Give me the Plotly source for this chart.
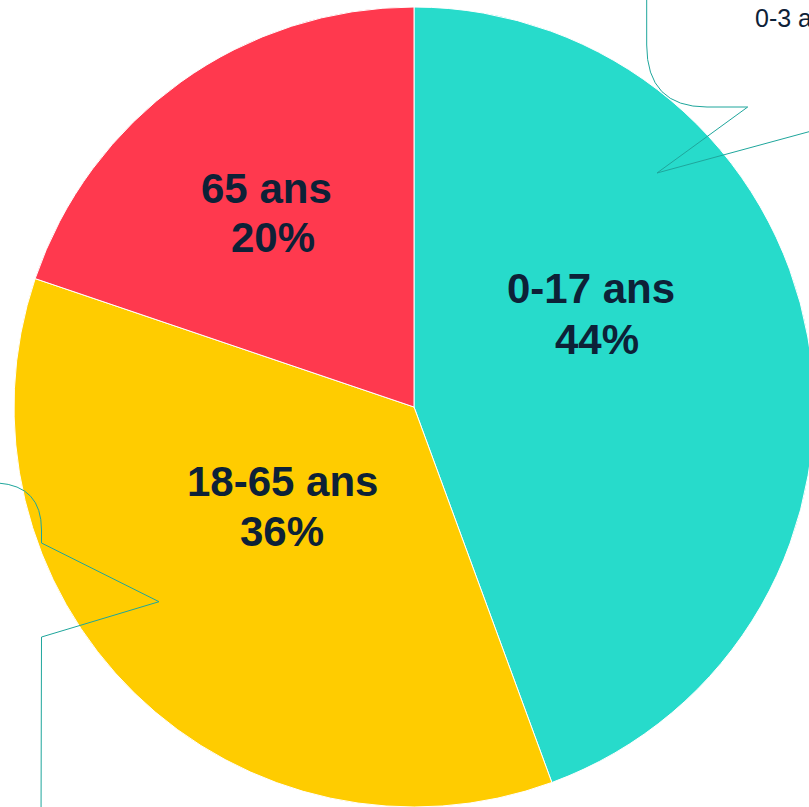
import plotly.graph_objects as go

# data
labels = ["0-17 ans", "18-65 ans", "65 ans"]
values = [44.4, 35.8, 19.8]
colors = ["#27DBCB", "#FFCC00", "#FF394E"]
callout_text = "0-3 ans"

# figure is a bit larger than the window so the pie can run off the edges
W, H = 830, 830


def px(x, y):
    # pixel -> paper coordinates
    return "%.5f,%.5f" % (x / W, 1 - y / H)


fig = go.Figure(go.Pie(
    labels=labels,
    values=values,
    sort=False,
    direction="clockwise",
    rotation=0,
    marker=dict(colors=colors, line=dict(color="white", width=1)),
    textinfo="none",
    domain=dict(x=[14 / W, 814 / W], y=[1 - 807 / H, 1 - 7 / H]),
    showlegend=False,
    hoverinfo="label+percent",
))

line_col = "#1FA69C"
# top-right callout bubble (partly off-canvas)
path_tr = ("M " + px(646.7, -2) + " L " + px(646.7, 45) +
           " Q " + px(646.7, 107) + " " + px(707, 107) +
           " L " + px(747.7, 107) + " L " + px(657, 173) +
           " L " + px(830, 126))
# left callout bubble
path_l = ("M " + px(-2, 483) + " Q " + px(41.5, 486) + " " + px(41.5, 530) +
          " L " + px(41.5, 543) + " L " + px(159, 601.7) +
          " L " + px(41.5, 637) + " L " + px(41, 830))

# label positions (pixel centres of the two lines)
label_pos = [(591, 288, 597, 339), (282, 481, 282, 531), (266, 188, 273, 237)]
font_lbl = dict(family="Liberation Sans, Arial, sans-serif", size=42, color="#0D2137")

annotations = []
for lab, v, (x1, y1, x2, y2) in zip(labels, values, label_pos):
    annotations.append(dict(text="<b>%s</b>" % lab, xref="paper", yref="paper",
                            x=x1 / W, y=1 - y1 / H, xanchor="center", yanchor="middle",
                            showarrow=False, font=font_lbl))
    annotations.append(dict(text="<b>%.0f%%</b>" % v, xref="paper", yref="paper",
                            x=x2 / W, y=1 - y2 / H, xanchor="center", yanchor="middle",
                            showarrow=False, font=font_lbl))

annotations.append(dict(text=callout_text, xref="paper", yref="paper",
                        x=753 / W, y=1 - 18 / H, xanchor="left", yanchor="middle",
                        showarrow=False,
                        font=dict(family="Liberation Sans, Arial, sans-serif", size=25, color="#0D2137")))

fig.update_layout(
    width=W, height=H,
    margin=dict(l=0, r=0, t=0, b=0),
    paper_bgcolor="white",
    shapes=[
        dict(type="path", xref="paper", yref="paper", path=path_tr,
             line=dict(color=line_col, width=1)),
        dict(type="path", xref="paper", yref="paper", path=path_l,
             line=dict(color=line_col, width=1)),
    ],
    annotations=annotations,
)

fig.write_html("out.html", config={"displayModeBar": False},
               post_script="document.body.style.margin='0';document.body.style.overflow='hidden';")
